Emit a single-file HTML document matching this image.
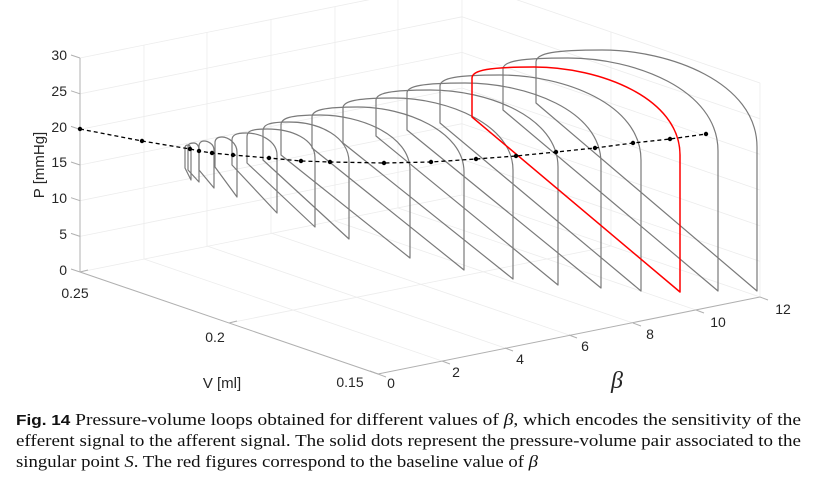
<!DOCTYPE html>
<html><head><meta charset="utf-8"><style>
html,body{margin:0;padding:0;background:#fff;}
svg{display:block;}
</style></head><body>
<svg width="835" height="499" viewBox="0 0 835 499" xmlns="http://www.w3.org/2000/svg">
<rect width="835" height="499" fill="#fff"/>
<!-- grid -->
<g stroke="#ececec" stroke-width="0.8" fill="none">
<line x1="144" y1="259" x2="144" y2="45"/>
<line x1="207" y1="246" x2="207" y2="32"/>
<line x1="271" y1="233" x2="271" y2="19"/>
<line x1="335" y1="221" x2="335" y2="7"/>
<line x1="398" y1="208" x2="398" y2="0"/>
<line x1="462" y1="195" x2="462" y2="0"/>
<line x1="80" y1="272" x2="462" y2="195"/>
<line x1="80" y1="236.4" x2="462" y2="159.4"/>
<line x1="80" y1="200.7" x2="462" y2="123.7"/>
<line x1="80" y1="165" x2="462" y2="88"/>
<line x1="80" y1="129.4" x2="462" y2="52.4"/>
<line x1="80" y1="93.8" x2="462" y2="16.8"/>
<line x1="80" y1="58" x2="462" y2="-19"/>
<line x1="760" y1="297" x2="760" y2="83"/>
<line x1="611" y1="246" x2="611" y2="32"/>
<line x1="760" y1="297" x2="462" y2="195"/>
<line x1="760" y1="261.4" x2="462" y2="159.4"/>
<line x1="760" y1="225.7" x2="462" y2="123.7"/>
<line x1="760" y1="190" x2="462" y2="88"/>
<line x1="760" y1="154.4" x2="462" y2="52.4"/>
<line x1="760" y1="118.8" x2="462" y2="16.8"/>
<line x1="760" y1="83" x2="462" y2="-19"/>
<line x1="442" y1="361" x2="144" y2="259"/>
<line x1="505" y1="348" x2="207" y2="246"/>
<line x1="569" y1="335" x2="271" y2="233"/>
<line x1="633" y1="323" x2="335" y2="221"/>
<line x1="696" y1="310" x2="398" y2="208"/>
<line x1="229" y1="323" x2="611" y2="246"/>
</g>
<!-- axes -->
<g stroke="#b0b0b0" stroke-width="1" fill="none">
<line x1="80" y1="272" x2="80" y2="58"/>
<line x1="80" y1="272" x2="378" y2="374"/>
<line x1="378" y1="374" x2="760" y2="297"/>
<line x1="80" y1="272" x2="71" y2="269"/>
<line x1="80" y1="236.4" x2="71" y2="233.4"/>
<line x1="80" y1="200.7" x2="71" y2="197.7"/>
<line x1="80" y1="165" x2="71" y2="162"/>
<line x1="80" y1="129.4" x2="71" y2="126.4"/>
<line x1="80" y1="93.8" x2="71" y2="90.8"/>
<line x1="80" y1="58" x2="71" y2="55"/>
<line x1="80" y1="272" x2="88" y2="270"/>
<line x1="229" y1="323" x2="237" y2="321"/>
<line x1="378" y1="374" x2="370" y2="371"/>
<line x1="378" y1="374" x2="386" y2="377"/>
<line x1="442" y1="361" x2="450" y2="364"/>
<line x1="505" y1="348" x2="513" y2="351"/>
<line x1="569" y1="335" x2="577" y2="338"/>
<line x1="633" y1="323" x2="641" y2="326"/>
<line x1="696" y1="310" x2="704" y2="313"/>
<line x1="760" y1="297" x2="768" y2="300"/>
</g>
<!-- loops -->
<g stroke="#7a7a7a" stroke-width="1.2" fill="none" stroke-linejoin="round">
<path d="M191,180 L191,150 C191,146 189,145 188,145 C186,145 185,146 185,148 L185,168 Z"/>
<path d="M199,182 L199,150 C199,145 196,143 194,143 C190,143 188,144 188,147 L188,170 Z"/>
<path d="M214,188 L214,150 C214,144 208,141 204,141 C201,141 199,143 199,146 L199,170 Z"/>
<path d="M237,197 L237,152 C237,143 228,137 222,137 C217,137 215,139 215,143 L215,167 Z"/>
<path d="M277,213 L277,155 C277,142 262,133 246,133 C236,133 232,135 232,140 L232,165 Z"/>
<path d="M315,227 L315,158 C315,139 292,129 267,129 C251,129 247,131 247,137 L247,163 Z"/>
<path d="M349,239 L349,162 C349,137 320,122 289,122 C268,122 263,125 263,131 L263,160 Z"/>
<path d="M410,258 L410,170 C410,135 360,115 320,115 C290,115 281,118 281,125 L281,155 Z"/>
<path d="M464,270 L464,172 C464,131 405,107 358,107 C324,107 312,110 312,117 L312,148 Z"/>
<path d="M513,279 L513,170 C513,125 448,98 394,98 C357,98 343,101 343,108 L343,143 Z"/>
<path d="M558,285 L558,167 C558,117 488,90 430,90 C391,90 376,93 376,100 L376,136 Z"/>
<path d="M601,288 L601,163 C601,110 526,83 465,83 C423,83 407,86 407,93 L407,130 Z"/>
<path d="M641,291 L641,160 C641,104 564,75 500,75 C457,75 440,78 440,86 L440,123 Z"/>
<path d="M718,291 L718,151 C718,89 634,58 568,58 C521,58 503,61 503,69 L503,110 Z"/>
<path d="M757,291 L757,147 C757,82 669,50 602,50 C555,50 536,53 536,62 L536,103 Z"/>
</g>
<path d="M680,292 L680,155 C680,98 600,67 534,67 C490,67 472,70 472,78 L472,117 Z" stroke="#ff0000" stroke-width="1.5" fill="none" stroke-linejoin="round"/>
<path d="M80,129 L142,141 L190,149 L199,151 L212,153 L233,155 L269,158 L301,161 L330,162 L384,163 L431,162 L476,159 L516,156 L556,152 L595,148 L633,143 L670,139 L706,134" stroke="#000" stroke-width="1.3" stroke-dasharray="4,3" fill="none"/>
<g fill="#000">
<circle cx="80" cy="129" r="2.2"/><circle cx="142" cy="141" r="2.2"/><circle cx="190" cy="149" r="2.2"/><circle cx="199" cy="151" r="2.2"/><circle cx="212" cy="153" r="2.2"/><circle cx="233" cy="155" r="2.2"/><circle cx="269" cy="158" r="2.2"/><circle cx="301" cy="161" r="2.2"/><circle cx="330" cy="162" r="2.2"/><circle cx="384" cy="163" r="2.2"/><circle cx="431" cy="162" r="2.2"/><circle cx="476" cy="159" r="2.2"/><circle cx="516" cy="156" r="2.2"/><circle cx="556" cy="152" r="2.2"/><circle cx="595" cy="148" r="2.2"/><circle cx="633" cy="143" r="2.2"/><circle cx="670" cy="139" r="2.2"/><circle cx="706" cy="134" r="2.2"/>
</g>
<g font-family="Liberation Sans, sans-serif" font-size="14" fill="#262626">
<g text-anchor="end">
<text x="67" y="60">30</text>
<text x="67" y="96">25</text>
<text x="67" y="132">20</text>
<text x="67" y="167">15</text>
<text x="67" y="203">10</text>
<text x="67" y="239">5</text>
<text x="67" y="275">0</text>
</g>
<g text-anchor="middle">
<text x="75" y="298">0.25</text>
<text x="215" y="342">0.2</text>
<text x="350" y="387">0.15</text>
<text x="391" y="388">0</text>
<text x="456" y="377">2</text>
<text x="520" y="364">4</text>
<text x="585" y="351">6</text>
<text x="650" y="339">8</text>
<text x="718" y="327">10</text>
<text x="783" y="314">12</text>
<text x="222" y="388" font-size="15">V [ml]</text>
</g>
<text transform="translate(44,165) rotate(-90)" text-anchor="middle" font-size="15">P [mmHg]</text>
</g>
<text x="617" y="388" font-family="Liberation Serif, serif" font-style="italic" font-size="24" fill="#262626" text-anchor="middle">β</text>
<g font-family="Liberation Serif, serif" font-size="17" fill="#111">
<text x="16" y="425" textLength="785" lengthAdjust="spacingAndGlyphs"><tspan font-family="Liberation Sans, sans-serif" font-weight="bold" font-size="15">Fig. 14</tspan>  Pressure-volume loops obtained for different values of <tspan font-style="italic">β</tspan>, which encodes the sensitivity of the</text>
<text x="16" y="446" textLength="785" lengthAdjust="spacingAndGlyphs">efferent signal to the afferent signal. The solid dots represent the pressure-volume pair associated to the</text>
<text x="16" y="467" textLength="522" lengthAdjust="spacingAndGlyphs">singular point <tspan font-style="italic">S</tspan>. The red figures correspond to the baseline value of <tspan font-style="italic">β</tspan></text>
</g>
</svg>
</body></html>
